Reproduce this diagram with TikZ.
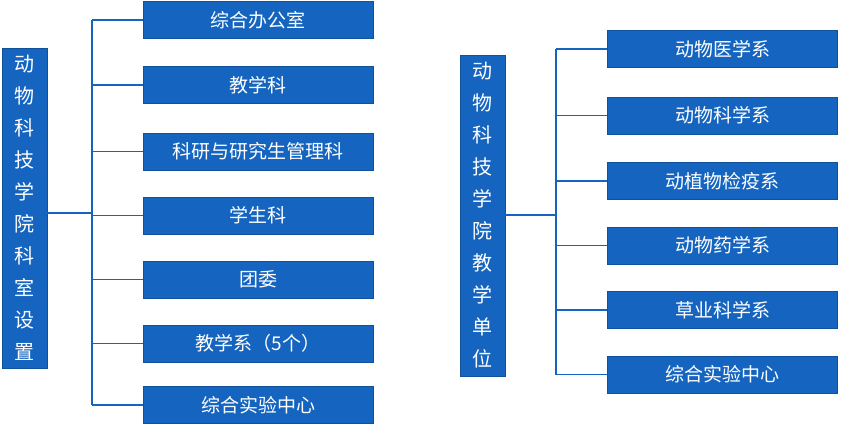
\documentclass[tikz,border=0pt]{standalone}
\usepackage{fontspec}
\setmainfont{Noto Sans CJK SC}
\definecolor{bb}{HTML}{1565C0}
\begin{document}
\begin{tikzpicture}[x=1pt,y=-1pt,
 box/.style={fill=bb,draw=bb!80!black,line width=0.6pt,text=white,minimum width=230pt,minimum height=37pt,font=\fontsize{19}{22}\selectfont,inner sep=0pt},
 vbox/.style={fill=bb,draw=bb!80!black,line width=0.6pt,text=white,minimum width=45pt,font=\fontsize{20}{32}\selectfont,align=center,inner sep=0pt},
 ln/.style={draw=bb,line width=1.2pt}]
\useasboundingbox (0,0) rectangle (842,424);
\node[vbox,minimum height=320pt] (L) at (24.5,208) {动\\物\\科\\技\\学\\院\\科\\室\\设\\置};
\node[vbox,minimum height=321pt] (R) at (482.5,215.5) {动\\物\\科\\技\\学\\院\\教\\学\\单\\位};
\foreach \n/\y/\t in {a/20/综合办公室,b/85/教学科,c/151.5/科研与研究生管理科,d/215.5/学生科,e/279.5/团委,f/343.5/教学系（5个）,g/405/综合实验中心}{
 \node[box] (\n) at (258,\y) {\t};
 \coordinate (j\n) at (92,\y);
 \draw[ln] (j\n) -- (\n.west);}
\draw[ln] (ja) -- (jg);
\coordinate (lj) at (92,213);
\draw[ln] (L.east|-lj) -- (lj);
\foreach \n/\y/\t in {p/49/动物医学系,q/115.5/动物科学系,r/181/动植物检疫系,s/245.5/动物药学系,t/310/草业科学系,u/374.5/综合实验中心}{
 \node[box] (\n) at (722.5,\y) {\t};
 \coordinate (k\n) at (556,\y);
 \draw[ln] (k\n) -- (\n.west);}
\draw[ln] (kp) -- (ku);
\coordinate (rj) at (556,215);
\draw[ln] (R.east|-rj) -- (rj);
\end{tikzpicture}
\end{document}
